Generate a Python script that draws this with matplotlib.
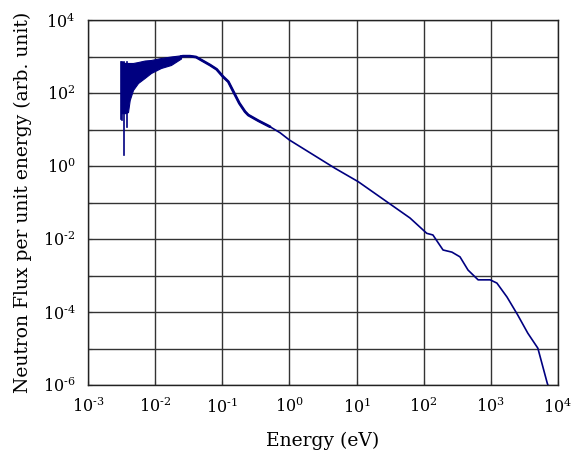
import matplotlib
matplotlib.use("Agg")
import matplotlib.pyplot as plt
from matplotlib.ticker import LogLocator, FuncFormatter, NullLocator
import numpy as np

plt.rcParams['font.family'] = ['DejaVu Serif']
plt.rcParams['mathtext.fontset'] = 'custom'
plt.rcParams['mathtext.rm'] = 'DejaVu Serif'
plt.rcParams['mathtext.it'] = 'DejaVu Serif'

# Noisy thermal onset band (energy in eV; upper and lower envelope of the flux, arb. unit)
band_energy = [3.10e-3, 3.23e-3, 3.56e-3, 3.94e-3, 4.18e-3, 4.68e-3, 5.56e-3, 6.98e-3,
               8.67e-3, 1.22e-2, 1.72e-2, 2.43e-2]
band_upper = [706, 722, 664, 664, 664, 664, 706, 775,
              802, 910, 1000, 1080]
band_lower = [28, 28, 28, 30, 64, 121, 188, 258,
              353, 484, 585, 880]

# Deep downward spikes in the noisy band
spike_energy = [3.15e-3, 3.21e-3, 3.44e-3, 3.78e-3]
spike_flux = [20.0, 18.2, 2.0, 11.7]

# Smooth part of the spectrum
smooth_energy = [2.43e-2, 2.60e-2, 3.30e-2, 4.06e-2, 4.66e-2, 6.56e-2, 0.0824, 0.1026,
                 0.123, 0.146, 0.1795, 0.218, 0.244, 0.344, 0.514, 0.724,
                 1.0, 4.78, 10.6, 31.5, 62.5, 111, 137, 194,
                 263, 347, 457, 646, 977, 1230, 1740, 2510,
                 3550, 5010, 6920, 7240]
smooth_flux = [1000, 1020, 1020, 968, 837, 585, 446, 280,
               204, 110, 52.4, 30.9, 24.9, 17.4, 11.9, 8.17,
               5.15, 0.865, 0.371, 0.091, 0.0376, 0.0143, 0.0129, 0.0050,
               0.00437, 0.00324, 0.00141, 7.6e-4, 7.6e-4, 6.2e-4, 2.57e-4, 8.3e-5,
               2.63e-5, 1.02e-5, 1.12e-6, 8.9e-7]

navy = '#000080'

fig = plt.figure(figsize=(5.76, 4.54), dpi=100)
ax = fig.add_axes([88/576, 1 - 385/454, (558-88)/576, (385-20)/454])

ax.fill_between(band_energy, band_lower, band_upper, color=navy, lw=0.8, edgecolor=navy)
for e, f in zip(spike_energy, spike_flux):
    ax.plot([e, e], [f, band_upper[0]], color=navy, lw=1.2)
ax.plot(smooth_energy, smooth_flux, color=navy, lw=1.2)
thick = [i for i, e in enumerate(smooth_energy) if e <= 0.6]
ax.plot([smooth_energy[i] for i in thick], [smooth_flux[i] for i in thick],
        color=navy, lw=2.0, solid_capstyle='round', solid_joinstyle='round')

ax.set_xscale('log')
ax.set_yscale('log')
ax.set_xlim(1e-3, 1e4)
ax.set_ylim(1e-6, 1e4)

ax.xaxis.set_major_locator(LogLocator(base=10, numticks=20))
ax.yaxis.set_major_locator(LogLocator(base=10, numticks=20))
ax.xaxis.set_minor_locator(NullLocator())
ax.yaxis.set_minor_locator(NullLocator())

def sup(e):
    s = str(abs(e))
    if e < 0:
        s = '\u2010' + s
    return r'$\mathregular{10^{%s}}$' % s

def fmt_x(v, pos):
    return sup(int(round(np.log10(v))))

def fmt_y(v, pos):
    e = int(round(np.log10(v)))
    if e % 2 != 0:
        return ''
    return sup(e)

ax.xaxis.set_major_formatter(FuncFormatter(fmt_x))
ax.yaxis.set_major_formatter(FuncFormatter(fmt_y))

ax.grid(True, which='major', color='#333333', lw=1.0)
ax.set_axisbelow(True)
ax.tick_params(direction='in', length=3, labelsize=11.5, pad=9, color='#333333')
for s in ax.spines.values():
    s.set_color('#222222')
    s.set_linewidth(1.0)

ax.set_xlabel('Energy (eV)', fontsize=13.5, labelpad=11)
ax.set_ylabel('Neutron Flux per unit energy (arb. unit)', fontsize=13.5, labelpad=8)

fig.savefig('out.png', dpi=100)
